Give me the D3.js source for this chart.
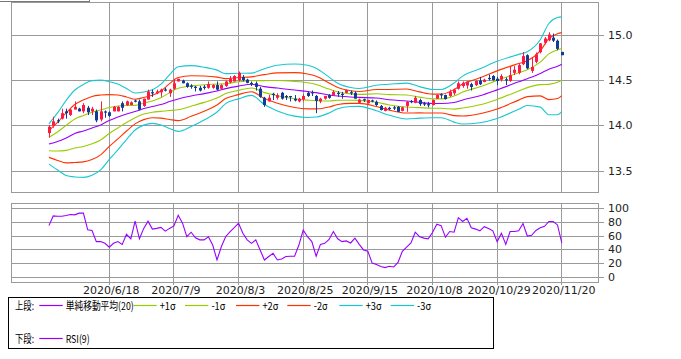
<!DOCTYPE html>
<html><head><meta charset="utf-8">
<script src="https://cdn.jsdelivr.net/npm/d3@7"></script>
<style>body{margin:0;background:#fff}svg{display:block}</style>
</head><body><svg id="c" width="681" height="359"></svg>
<script>
// ---------- data ----------
const dateLabels = ["2020/6/18","2020/7/9","2020/8/3","2020/8/25","2020/9/15","2020/10/8","2020/10/29","2020/11/20"];
const dateIdx = [14,29,44,59,74,89,104,119];
const priceTicks = [15.0,14.5,14.0,13.5];
const rsiTicks = [0,20,40,60,80,100];

const opens = [13.92,14.00,14.06,14.08,14.16,14.12,14.18,14.19,14.16,14.20,
14.16,14.16,14.07,14.155,14.15,14.16,14.16,14.25,14.23,14.23,
14.275,14.27,14.22,14.29,14.37,14.36,14.37,14.40,14.36,14.41,
14.49,14.50,14.47,14.44,14.43,14.42,14.43,14.42,14.42,14.45,
14.41,14.44,14.48,14.49,14.505,14.54,14.51,14.47,14.47,14.41,
14.31,14.27,14.35,14.31,14.365,14.325,14.325,14.30,14.27,14.29,
14.365,14.37,14.33,14.27,14.30,14.34,14.34,14.36,14.35,14.365,
14.37,14.365,14.255,14.29,14.25,14.28,14.265,14.22,14.165,14.195,
14.20,14.21,14.165,14.22,14.27,14.255,14.285,14.245,14.235,14.23,
14.30,14.345,14.34,14.33,14.36,14.41,14.44,14.445,14.46,14.45,
14.50,14.485,14.525,14.55,14.52,14.51,14.51,14.495,14.585,14.585,
14.68,14.78,14.607,14.706,14.813,14.917,14.945,14.973,14.94,14.816];
const highs = [14.01,14.10,14.08,14.19,14.19,14.19,14.27,14.20,14.25,14.22,
14.21,14.18,14.27,14.17,14.16,14.22,14.22,14.27,14.28,14.27,
14.29,14.29,14.30,14.40,14.40,14.40,14.41,14.42,14.41,14.52,
14.52,14.51,14.48,14.46,14.44,14.44,14.45,14.49,14.46,14.49,
14.46,14.50,14.55,14.56,14.60,14.56,14.52,14.49,14.49,14.43,
14.32,14.34,14.365,14.36,14.375,14.34,14.33,14.34,14.31,14.35,
14.38,14.39,14.34,14.31,14.33,14.35,14.395,14.385,14.375,14.40,
14.39,14.38,14.30,14.30,14.29,14.29,14.28,14.23,14.21,14.21,
14.22,14.22,14.21,14.275,14.285,14.33,14.30,14.265,14.265,14.29,
14.345,14.36,14.345,14.40,14.41,14.49,14.49,14.49,14.475,14.50,
14.54,14.52,14.565,14.56,14.54,14.57,14.535,14.65,14.66,14.69,
14.815,14.79,14.76,14.81,14.915,14.98,15.033,15.019,14.953,14.816];
const lows = [13.87,13.98,14.03,14.07,14.08,14.11,14.18,14.16,14.14,14.12,
14.12,14.04,14.05,14.09,14.10,14.16,14.16,14.16,14.22,14.23,
14.26,14.17,14.21,14.29,14.32,14.35,14.32,14.38,14.32,14.40,
14.49,14.47,14.42,14.41,14.38,14.38,14.40,14.41,14.41,14.39,
14.40,14.43,14.47,14.49,14.49,14.49,14.47,14.44,14.39,14.31,
14.21,14.27,14.285,14.29,14.29,14.285,14.27,14.27,14.26,14.27,
14.32,14.33,14.14,14.25,14.29,14.30,14.33,14.32,14.30,14.36,
14.34,14.30,14.25,14.265,14.245,14.26,14.22,14.17,14.16,14.175,
14.175,14.155,14.16,14.155,14.25,14.25,14.22,14.22,14.205,14.225,
14.30,14.30,14.29,14.32,14.34,14.40,14.42,14.41,14.39,14.44,
14.45,14.48,14.50,14.50,14.45,14.49,14.45,14.485,14.56,14.57,
14.67,14.625,14.585,14.69,14.80,14.90,14.934,14.926,14.835,14.78];
const closes = [13.99,14.05,14.05,14.14,14.14,14.18,14.21,14.16,14.23,14.15,
14.19,14.06,14.16,14.15,14.11,14.21,14.21,14.20,14.27,14.26,
14.27,14.18,14.30,14.38,14.36,14.38,14.40,14.39,14.40,14.47,
14.52,14.47,14.43,14.435,14.42,14.39,14.42,14.46,14.45,14.40,
14.45,14.49,14.52,14.55,14.585,14.505,14.475,14.465,14.43,14.32,
14.23,14.31,14.345,14.34,14.30,14.32,14.32,14.28,14.30,14.33,
14.33,14.36,14.275,14.30,14.33,14.31,14.375,14.355,14.345,14.395,
14.36,14.30,14.29,14.285,14.285,14.27,14.23,14.175,14.20,14.19,
14.195,14.155,14.205,14.265,14.265,14.31,14.24,14.24,14.23,14.285,
14.34,14.34,14.295,14.375,14.40,14.47,14.475,14.49,14.43,14.495,
14.46,14.51,14.52,14.505,14.495,14.55,14.505,14.56,14.62,14.67,
14.77,14.635,14.65,14.79,14.91,14.964,15.008,14.94,14.85,14.78];

// Bollinger band readings (sampled trading-day index, 20-day SMA, sigma)
const bandIdx   = [0,2,4,6,8,10,12,14,16,18,20,22,24,26,28,30,33,36,39,41,44,47,50,53,57,60,62,65,67,70,72,76,79,83,86,89,91,94,96,100,104,109,111,114,116,118,119];
const smaVals   = [13.800,13.828,13.867,13.916,13.944,13.977,14.010,14.059,14.098,14.131,14.158,14.191,14.213,14.235,14.268,14.296,14.329,14.356,14.384,14.411,14.439,14.459,14.433,14.417,14.395,14.380,14.367,14.340,14.329,14.318,14.314,14.307,14.288,14.274,14.259,14.246,14.246,14.257,14.285,14.332,14.397,14.486,14.521,14.579,14.626,14.659,14.681];
const sigmaVals = [0.074,0.105,0.138,0.160,0.171,0.174,0.165,0.143,0.121,0.094,0.068,0.061,0.062,0.075,0.099,0.119,0.112,0.097,0.077,0.055,0.047,0.041,0.066,0.084,0.096,0.096,0.090,0.066,0.047,0.035,0.033,0.047,0.057,0.066,0.058,0.052,0.052,0.072,0.088,0.099,0.105,0.101,0.099,0.124,0.168,0.179,0.174];

const rsiVals = [75,89,88.5,88.5,89.5,91,90.5,93,93,69,
68,52,52,49.5,44,49.5,52,48,62.5,56,
81.5,56,71,81.5,70,71,72.5,67,71,74.5,
90,78.5,59,65.5,57.5,54.5,54.5,59,47,25.5,
44.5,59,66,72,78.5,64,54.5,49.5,54.5,40,
25.5,30.5,35,25.5,27,30.5,31,31,47,68.5,
59,52,31,48,49.5,55,66.5,56,52,53,
50,57,48,40,38,21,19,16,14.5,16.5,
15.5,22,38,44,50,65.5,59,57,56,65,
77,75,58.5,66.5,65.5,86.5,81,85.5,72,70,
67.5,73.5,71,67.5,52,64,48,66.5,66.5,67.5,
78,60,61,68,72,74,81,81,76,50];

// ---------- drawing ----------
const svg = d3.select("#c");
svg.append("rect").attr("width",681).attr("height",359).attr("fill","#fff");
const snap = v => Math.floor(v) + 0.5;
const gridC = "#9a9a9a";
const upC = "#ff1a46", downC = "#133a94";
const cPurple = "#9900ff", cGreen = "#99cc00", cRed = "#ff3300", cCyan = "#18c8d0";
const axisFont = "DejaVu Sans";

const L = 11, R = 598;
const x = d3.scaleLinear().domain([-8.8,127.4]).range([L,R]);
const yP = d3.scaleLinear().domain([13.27,15.356]).range([192,3]);
const yR = d3.scaleLinear().domain([-6.2,107.6]).range([282,203]);

// small box at top-left
svg.append("rect").attr("x",-2).attr("y",-10).attr("width",91.5).attr("height",11.5)
  .attr("fill","none").attr("stroke","#777");

function panel(y0, y1, yScale, ticks, fmt, bottomTicks){
  const g = svg.append("g");
  ticks.forEach(t => {
    const yy = snap(yScale(t));
    g.append("line").attr("x1",L).attr("x2",R+6).attr("y1",yy).attr("y2",yy)
      .attr("stroke",gridC).attr("stroke-width",1);
    g.append("text").attr("x",608).attr("y",yy).attr("dy","0.36em")
      .attr("font-family",axisFont).attr("font-size",11).attr("fill","#222").text(fmt(t));
  });
  dateIdx.forEach(i => {
    const xx = snap(x(i));
    g.append("line").attr("x1",xx).attr("x2",xx).attr("y1",y0).attr("y2",y1 + (bottomTicks?3:0))
      .attr("stroke",gridC).attr("stroke-width",1);
  });
  g.append("rect").attr("x",L+0.5).attr("y",y0+0.5).attr("width",R-L).attr("height",y1-y0)
    .attr("fill","none").attr("stroke",gridC).attr("stroke-width",1);
  return g;
}

panel(2, 192, yP, priceTicks, d => d.toFixed(1), false);
panel(203, 282, yR, rsiTicks, d => String(d), true);

// Bollinger bands
const bandDefs = [
  {k:3, c:cCyan},{k:-3, c:cCyan},
  {k:2, c:cRed},{k:-2, c:cRed},
  {k:1, c:cGreen},{k:-1, c:cGreen},
  {k:0, c:cPurple}
];
const bandRows = bandIdx.map((i,j) => ({i, m:smaVals[j], s:sigmaVals[j]}));
bandDefs.forEach(b => {
  const line = d3.line().x(d => x(d.i)).y(d => yP(d.m + b.k*d.s)).curve(d3.curveMonotoneX);
  svg.append("path").datum(bandRows).attr("d",line).attr("fill","none")
    .attr("stroke",b.c).attr("stroke-width",1.1);
});

// candles
const candles = opens.map((o,i) => ({i,o,h:highs[i],l:lows[i],c:closes[i]}));
const cg = svg.append("g");
candles.forEach(d => {
  const col = d.c >= d.o ? upC : downC;
  const cx = Math.round(x(d.i));
  cg.append("line").attr("x1",cx+0.5).attr("x2",cx+0.5)
    .attr("y1",yP(d.h)).attr("y2",yP(d.l)).attr("stroke",col).attr("stroke-width",1);
  const top = yP(Math.max(d.o,d.c)), bot = yP(Math.min(d.o,d.c));
  const h = Math.max(1.2, bot-top);
  cg.append("rect").attr("x",cx-1).attr("width",3)
    .attr("y", (top+bot)/2 - h/2).attr("height",h).attr("fill",col);
});

// RSI line
const rsiLine = d3.line().x((d,i) => x(i)).y(d => yR(d));
svg.append("path").datum(rsiVals).attr("d",rsiLine).attr("fill","none")
  .attr("stroke",cPurple).attr("stroke-width",1.1);

// x labels
dateIdx.forEach((i,k) => {
  svg.append("text").attr("x",x(i)+2).attr("y",294).attr("text-anchor","middle")
    .attr("font-family",axisFont).attr("font-size",11).attr("fill","#222").text(dateLabels[k]);
});

// legend
const lg = svg.append("g");
lg.append("rect").attr("x",8.5).attr("y",297.5).attr("width",485).attr("height",51)
  .attr("fill","#fff").attr("stroke","#000").attr("stroke-width",1);
const lf = "'Noto Sans CJK JP', 'DejaVu Sans', sans-serif";
function ltext(xx, yy, t, w){
  lg.append("text").attr("x",xx).attr("y",yy).attr("font-family",lf).attr("font-size",11)
    .attr("fill","#000").attr("textLength",w).attr("lengthAdjust","spacingAndGlyphs").text(t);
}
function lline(x1, x2, yy, c){
  lg.append("line").attr("x1",x1).attr("x2",x2).attr("y1",yy).attr("y2",yy)
    .attr("stroke",c).attr("stroke-width",1.2);
}
const legendRow1 = [
  {t:"単純移動平均(20)", c:cPurple, w:68},
  {t:"+1σ", c:cGreen, w:16},
  {t:"-1σ", c:cGreen, w:14},
  {t:"+2σ", c:cRed, w:16},
  {t:"-2σ", c:cRed, w:14},
  {t:"+3σ", c:cCyan, w:16},
  {t:"-3σ", c:cCyan, w:14}
];
const legendStarts = [39.3,133.3,185,236,287.3,339.3,390.7];
ltext(15, 309.5, "上段:", 19);
legendRow1.forEach((it,k) => {
  const s = legendStarts[k];
  lline(s, s+23.4, 305.5, it.c);
  ltext(s+26.4, 309.5, it.t, it.w);
});
ltext(15, 342.5, "下段:", 19);
lline(39.3, 62.7, 338.5, cPurple);
ltext(65.7, 342.5, "RSI(9)", 24);
</script></body></html>
